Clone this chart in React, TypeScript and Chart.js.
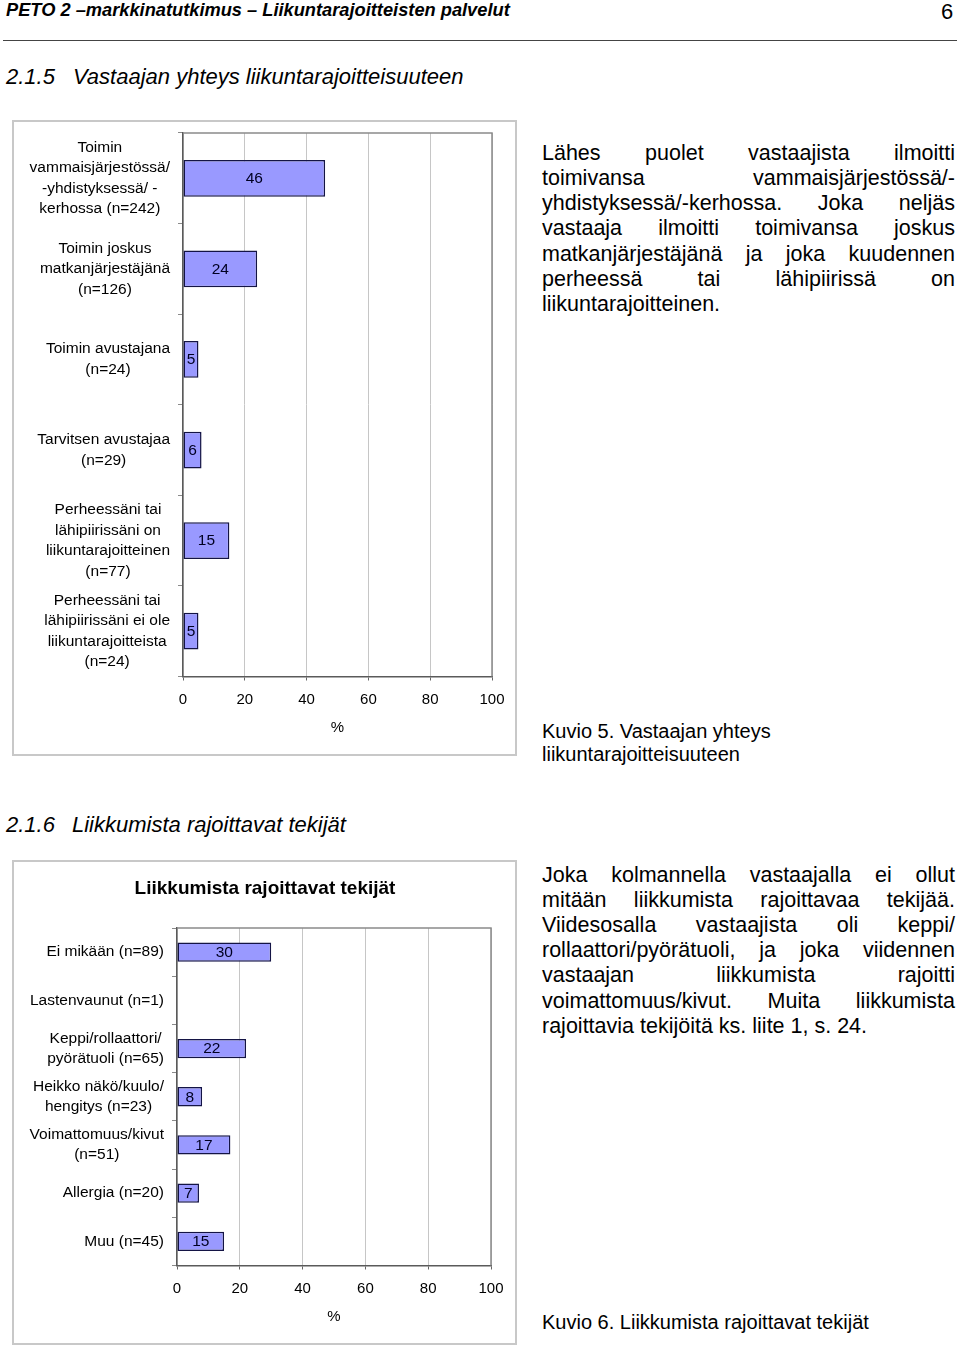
import React, { useEffect, useRef } from "react";
import { Chart, registerables } from "chart.js";

Chart.register(...registerables);

const FONT = "'Liberation Sans', Arial, Helvetica, sans-serif";

// ---------- Data ----------
const chart1Labels: string[][] = [
  ["Toimin", "vammaisjärjestössä/", "-yhdistyksessä/ -", "kerhossa (n=242)"],
  ["Toimin joskus", "matkanjärjestäjänä", "(n=126)"],
  ["Toimin avustajana", "(n=24)"],
  ["Tarvitsen avustajaa", "(n=29)"],
  ["Perheessäni tai", "lähipiirissäni on", "liikuntarajoitteinen", "(n=77)"],
  ["Perheessäni tai", "lähipiirissäni ei ole", "liikuntarajoitteista", "(n=24)"],
];
const chart1Values: (number | null)[] = [46, 24, 5, 6, 15, 5];

const chart2Title = "Liikkumista rajoittavat tekijät";
const chart2Labels: string[][] = [
  ["Ei mikään (n=89)"],
  ["Lastenvaunut (n=1)"],
  ["Keppi/rollaattori/", "pyörätuoli (n=65)"],
  ["Heikko näkö/kuulo/", "hengitys (n=23)"],
  ["Voimattomuus/kivut", "(n=51)"],
  ["Allergia (n=20)"],
  ["Muu (n=45)"],
];
const chart2Values: (number | null)[] = [30, null, 22, 8, 17, 7, 15];

const xAxisMin = 0;
const xAxisMax = 100;
const xAxisStep = 20;
const xAxisTitle = "%";

const headerText = "PETO 2 –markkinatutkimus – Liikuntarajoitteisten palvelut";
const pageNumber = "6";
const heading1 = ["2.1.5", "Vastaajan yhteys liikuntarajoitteisuuteen"];
const heading2 = ["2.1.6", "Liikkumista rajoittavat tekijät"];
const para1 = [
  "Lähes puolet vastaajista ilmoitti",
  "toimivansa vammaisjärjestössä/-",
  "yhdistyksessä/-kerhossa. Joka neljäs",
  "vastaaja ilmoitti toimivansa joskus",
  "matkanjärjestäjänä ja joka kuudennen",
  "perheessä tai lähipiirissä on",
  "liikuntarajoitteinen.",
];
const para2 = [
  "Joka kolmannella vastaajalla ei ollut",
  "mitään liikkumista rajoittavaa tekijää.",
  "Viidesosalla vastaajista oli keppi/",
  "rollaattori/pyörätuoli, ja joka viidennen",
  "vastaajan liikkumista rajoitti",
  "voimattomuus/kivut. Muita liikkumista",
  "rajoittavia tekijöitä ks. liite 1, s. 24.",
];
const caption1 = ["Kuvio 5. Vastaajan yhteys", "liikuntarajoitteisuuteen"];
const caption2 = ["Kuvio 6. Liikkumista rajoittavat tekijät"];

// ---------- Plugins ----------
const sideLabelsPlugin = {
  id: "sideLabels",
  beforeDatasetsDraw(chart: any) {
    const { ctx, chartArea } = chart;
    ctx.save();
    ctx.strokeStyle = "#8a8a8a";
    ctx.lineWidth = 1.5;
    ctx.beginPath();
    ctx.moveTo(chartArea.left, chartArea.top);
    ctx.lineTo(chartArea.right, chartArea.top);
    ctx.lineTo(chartArea.right, chartArea.bottom);
    ctx.stroke();
    ctx.restore();
  },
  afterDraw(chart: any, _args: any, opts: any) {
    const { ctx, chartArea } = chart;
    const yScale = chart.scales.y;
    ctx.save();
    ctx.font = `${opts.size}px ${FONT}`;
    ctx.fillStyle = "#000";
    ctx.textBaseline = "middle";
    ctx.textAlign = "center";
    (chart.data.labels as any[]).forEach((lab, i) => {
      const lines: string[] = Array.isArray(lab) ? lab : [lab];
      const w = Math.max(...lines.map((l) => ctx.measureText(l).width));
      const cx = chartArea.left - opts.gap - w / 2;
      const cy = yScale.getPixelForValue(i);
      lines.forEach((l, j) => {
        ctx.fillText(l, cx, cy + (j - (lines.length - 1) / 2) * opts.lineHeight);
      });
    });
    const meta = chart.getDatasetMeta(0);
    ctx.font = `${opts.valueSize}px ${FONT}`;
    ctx.fillStyle = "#000022";
    meta.data.forEach((bar: any, i: number) => {
      const v = chart.data.datasets[0].data[i];
      if (v == null) return;
      const p = bar.getProps(["x", "y", "base"], true);
      ctx.fillText(String(v), (p.x + p.base) / 2, p.y + 0.5);
    });
    ctx.restore();
  },
};

function makeConfig(
  labels: string[][],
  values: (number | null)[],
  yWidth: number,
  barPct: number,
  padding: any,
  title: string | null
): any {
  return {
    type: "bar",
    data: {
      labels,
      datasets: [
        {
          data: values,
          backgroundColor: "#9999ff",
          borderColor: "#141445",
          borderWidth: 1.5,
          borderSkipped: false,
          barPercentage: barPct,
          categoryPercentage: 1,
        },
      ],
    },
    plugins: [sideLabelsPlugin],
    options: {
      indexAxis: "y",
      responsive: false,
      animation: false,
      devicePixelRatio: 1,
      layout: { padding },
      plugins: {
        legend: { display: false },
        tooltip: { enabled: false },
        title: title
          ? {
              display: true,
              text: title,
              color: "#000",
              font: { family: FONT, size: 19, weight: "bold", lineHeight: 1.2 },
              padding: { top: 17, bottom: 28.2 },
            }
          : { display: false },
        sideLabels: { size: 15.5, lineHeight: 20.5, gap: 13, valueSize: 15.5 },
      },
      scales: {
        x: {
          type: "linear",
          min: xAxisMin,
          max: xAxisMax,
          position: "bottom",
          afterFit: (s: any) => {
            s.height = 79.5;
          },
          ticks: {
            stepSize: xAxisStep,
            color: "#000",
            font: { family: FONT, size: 15 },
            padding: 10,
            maxRotation: 0,
            autoSkip: false,
          },
          grid: {
            color: "#c6c6c6",
            lineWidth: 1,
            drawTicks: true,
            tickLength: 4,
            tickColor: "#666",
          },
          border: { display: true, color: "#5a5a5a", width: 1.5 },
          title: {
            display: true,
            text: xAxisTitle,
            color: "#000",
            font: { family: FONT, size: 15, lineHeight: 1.2 },
            padding: { top: 0, bottom: 19 },
          },
        },
        y: {
          type: "category",
          position: "left",
          afterFit: (s: any) => {
            s.width = yWidth;
          },
          ticks: { display: false },
          grid: {
            drawOnChartArea: false,
            drawTicks: true,
            tickLength: 5,
            tickColor: "#8a8a8a",
            offset: true,
          },
          border: { display: true, color: "#5a5a5a", width: 1.5 },
        },
      },
    },
  };
}

function BarChart(props: {
  left: number;
  top: number;
  width: number;
  height: number;
  config: any;
}) {
  const ref = useRef<HTMLCanvasElement | null>(null);
  useEffect(() => {
    if (!ref.current) return;
    const chart = new Chart(ref.current, props.config);
    return () => chart.destroy();
  }, []);
  return (
    <>
      <div
        style={{
          position: "absolute",
          left: props.left,
          top: props.top,
          width: props.width,
          height: props.height,
          border: "2px solid #c8c8c8",
          boxSizing: "border-box",
        }}
      />
      <canvas
        ref={ref}
        width={props.width}
        height={props.height}
        style={{
          position: "absolute",
          left: props.left,
          top: props.top,
          width: props.width,
          height: props.height,
        }}
      />
    </>
  );
}

function Line(props: { left: number; cy: number; size: number; lh?: number; style?: any; children: any }) {
  const lh = props.lh ?? Math.round(props.size * 1.15);
  return (
    <div
      style={{
        position: "absolute",
        left: props.left,
        top: props.cy - lh / 2,
        fontFamily: FONT,
        fontSize: props.size,
        lineHeight: `${lh}px`,
        whiteSpace: "nowrap",
        color: "#000",
        ...(props.style || {}),
      }}
    >
      {props.children}
    </div>
  );
}

function JustifiedPara(props: { lines: string[]; left: number; width: number; cy0: number; step: number; size: number }) {
  return (
    <>
      {props.lines.map((t, i) => {
        const last = i === props.lines.length - 1;
        return (
          <div
            key={i}
            style={{
              position: "absolute",
              left: props.left,
              top: props.cy0 + i * props.step - 12.5,
              width: props.width,
              fontFamily: FONT,
              fontSize: props.size,
              lineHeight: "25px",
              height: 25,
              color: "#000",
              textAlign: last ? "left" : "justify",
              textAlignLast: last ? "left" : "justify",
            } as any}
          >
            {t}
          </div>
        );
      })}
    </>
  );
}

export default function App() {
  const cfg1 = makeConfig(chart1Labels, chart1Values, 171, 0.405, { top: 13, right: 25, left: 0, bottom: 0 }, null);
  const cfg2 = makeConfig(chart2Labels, chart2Values, 138, 0.4, { top: 0, right: 26, left: 27, bottom: 0 }, chart2Title);
  return (
    <div
      style={{
        position: "absolute",
        left: 0,
        top: 0,
        width: 960,
        height: 1347,
        background: "#fff",
        overflow: "hidden",
      }}
    >
      <Line left={6} cy={9} size={18.25} style={{ fontWeight: "bold", fontStyle: "italic" }}>
        {headerText}
      </Line>
      <Line left={941} cy={11} size={22}>
        {pageNumber}
      </Line>
      <div style={{ position: "absolute", left: 3, top: 40, width: 954, height: 1, background: "#444" }} />

      <Line left={6} cy={76} size={22} style={{ fontStyle: "italic" }}>
        {heading1[0]}
      </Line>
      <Line left={73} cy={76} size={22} style={{ fontStyle: "italic" }}>
        {heading1[1]}
      </Line>

      <BarChart left={12} top={120} width={505} height={636} config={cfg1} />

      <JustifiedPara lines={para1} left={542} width={413} cy0={153} step={25.3} size={21.5} />
      <Line left={542} cy={731} size={20} lh={23}>
        {caption1[0]}
      </Line>
      <Line left={542} cy={754} size={20} lh={23}>
        {caption1[1]}
      </Line>

      <Line left={6} cy={824} size={22} style={{ fontStyle: "italic" }}>
        {heading2[0]}
      </Line>
      <Line left={72} cy={824} size={22} style={{ fontStyle: "italic" }}>
        {heading2[1]}
      </Line>

      <BarChart left={12} top={860} width={505} height={485} config={cfg2} />

      <JustifiedPara lines={para2} left={542} width={413} cy0={875} step={25.2} size={21.5} />
      <Line left={542} cy={1322} size={20} lh={23}>
        {caption2[0]}
      </Line>
    </div>
  );
}
